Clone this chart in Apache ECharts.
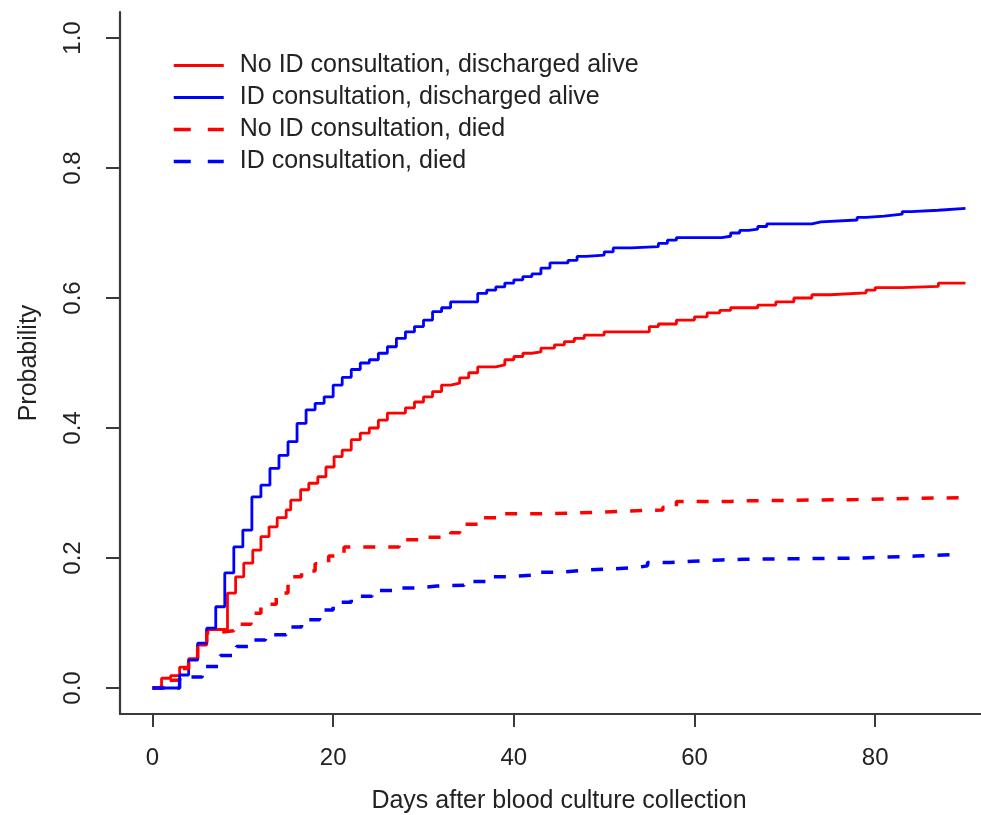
<!DOCTYPE html>
<html>
<head>
<meta charset="utf-8">
<title>Cumulative incidence</title>
<script src="https://cdn.jsdelivr.net/npm/echarts@6/dist/echarts.min.js"></script>
<style>
    html, body { margin: 0; padding: 0; background: #fff; }
    #chartmain { width: 981px; height: 815px; }
</style>
</head>
<body>
<div id="chartmain"></div>
<script>
var seriesNames = ['No ID consultation, discharged alive', 'ID consultation, discharged alive',
    'No ID consultation, died', 'ID consultation, died'];
var xTicks = [0, 20, 40, 60, 80];
var yTicks = [0, 0.2, 0.4, 0.6, 0.8, 1.0];

// no ID consultation, discharged alive
var noIdAliveDays = [0, 1, 2, 3, 4, 5, 6, 8.3, 9.2, 10.1, 11.1, 12, 12.9, 13.8, 14.8, 15.3, 16.4, 17.3, 18.3, 19.2, 20.1, 21,
    22, 23, 24, 25, 26, 28, 29, 30, 31, 32, 33, 34, 35, 36, 38, 39, 40, 41, 42, 43, 44.5, 45.6, 46.7, 47.8, 50, 55, 56, 58,
    60, 61.4, 62.8, 64, 67, 69, 71, 73, 75, 79, 80, 83, 87, 90];
var noIdAliveVals = [0, 0.015, 0.019, 0.032, 0.045, 0.066, 0.09, 0.146, 0.171, 0.192, 0.212, 0.233, 0.248, 0.262, 0.274, 0.289,
    0.305, 0.315, 0.325, 0.340, 0.356, 0.366, 0.382, 0.392, 0.400, 0.412, 0.423, 0.431, 0.440, 0.448, 0.456, 0.466, 0.469,
    0.477, 0.485, 0.494, 0.497, 0.505, 0.510, 0.515, 0.517, 0.523, 0.528, 0.533, 0.538, 0.543, 0.548, 0.556, 0.560, 0.566,
    0.571, 0.577, 0.581, 0.585, 0.589, 0.594, 0.600, 0.605, 0.608, 0.612, 0.616, 0.618, 0.623, 0.623];

// ID consultation, discharged alive
var idAliveDays = [0, 3, 4, 5, 6, 7, 8, 9, 10, 11, 12, 13, 14, 15, 16, 17, 18, 19, 20, 21, 22, 23, 24, 25, 26, 27, 28, 29,
    30, 31, 32, 33, 36, 37, 38, 39, 40, 41, 42, 43, 44, 46, 47, 48, 50, 51, 53, 56, 57, 58, 63, 64, 65, 66, 67, 68, 73, 74,
    78, 79, 81, 83, 84, 87, 90];
var idAliveVals = [0, 0.020, 0.043, 0.069, 0.092, 0.125, 0.177, 0.217, 0.243, 0.294, 0.312, 0.338, 0.358, 0.379, 0.407,
    0.428, 0.438, 0.448, 0.466, 0.478, 0.490, 0.500, 0.505, 0.515, 0.525, 0.538, 0.548, 0.556, 0.566, 0.579, 0.585, 0.594,
    0.607, 0.612, 0.617, 0.623, 0.628, 0.633, 0.637, 0.646, 0.654, 0.658, 0.664, 0.666, 0.671, 0.677, 0.679, 0.684, 0.689,
    0.693, 0.695, 0.700, 0.704, 0.706, 0.710, 0.714, 0.717, 0.720, 0.724, 0.726, 0.729, 0.733, 0.735, 0.738, 0.738];

// no ID consultation, died
var noIdDiedDays = [0, 1, 3, 4, 5, 6, 7, 9, 10.9, 12, 13.7, 15, 16.5, 18, 19.5, 21.2, 27.3, 29.5, 33, 34, 36.5, 39, 43, 46,
    49, 52, 56.5, 58, 64, 66, 78, 90];
var noIdDiedVals = [0, 0.012, 0.030, 0.045, 0.062, 0.085, 0.088, 0.098, 0.115, 0.129, 0.146, 0.171, 0.180, 0.191, 0.203,
    0.217, 0.228, 0.232, 0.239, 0.252, 0.262, 0.268, 0.269, 0.270, 0.272, 0.274, 0.278, 0.287, 0.288, 0.290, 0.293, 0.293];

// ID consultation, died
var idDiedDays = [0, 3, 5.5, 7.5, 9.3, 11, 12.5, 14.8, 16.5, 18.5, 20, 22, 24.3, 27, 29.3, 31.5, 34.5, 37, 39.3, 42.3, 45,
    47.5, 50.3, 53.5, 54.8, 57.3, 59.8, 63, 65.5, 72, 78.5, 84.5, 88.5];
var idDiedVals = [0, 0.017, 0.033, 0.050, 0.064, 0.074, 0.082, 0.094, 0.105, 0.120, 0.132, 0.141, 0.150, 0.154, 0.157,
    0.158, 0.164, 0.171, 0.174, 0.178, 0.181, 0.183, 0.185, 0.188, 0.193, 0.195, 0.197, 0.198, 0.199, 0.200, 0.203, 0.205,
    0.205];

function zip(xs, ys) {
    var out = [];
    for (var i = 0; i < xs.length; i++) {
        out.push([xs[i], ys[i]]);
    }
    return out;
}

var fontFam = '"Liberation Sans", Arial, Helvetica, sans-serif';
var axisColor = '#3a3a3a';
var textColor = '#222';
var solidW = 2.8;
var dashW = 3.5;

function makeSeries(name, days, vals, color, dashed) {
    return {
        name: name,
        type: 'line',
        step: 'end',
        showSymbol: false,
        symbol: 'none',
        silent: true,
        data: zip(days, vals),
        lineStyle: {
            color: color,
            width: dashed ? dashW : solidW,
            type: dashed ? [12, 13] : 'solid'
        },
        itemStyle: { color: color }
    };
}

var option = {
    animation: false,
    backgroundColor: '#fff',
    grid: {
        left: 120,
        right: -17,
        top: 12,
        bottom: 101,
        outerBoundsMode: 'none'
    },
    legend: {
        orient: 'vertical',
        left: 167,
        top: 48,
        itemWidth: 50,
        itemHeight: 20,
        itemGap: 7,
        selectedMode: false,
        // hide the circle marker, keep only the line
        itemStyle: { opacity: 0 },
        lineStyle: { width: 3 },
        textStyle: {
            fontFamily: fontFam,
            fontSize: 25,
            lineHeight: 25,
            color: textColor,
            padding: [0, 0, 0, 11]
        },
        data: [
            { name: seriesNames[0] },
            { name: seriesNames[1] },
            { name: seriesNames[2], lineStyle: { type: [17, 17], width: 3.5 } },
            { name: seriesNames[3], lineStyle: { type: [17, 17], width: 3.5 } }
        ]
    },
    xAxis: {
        type: 'value',
        min: -3.6,
        max: 93.6,
        name: 'Days after blood culture collection',
        nameLocation: 'middle',
        nameGap: 75,
        nameTextStyle: { fontFamily: fontFam, fontSize: 25, color: textColor },
        axisLine: { show: true, onZero: false, lineStyle: { color: axisColor, width: 2.2 } },
        axisTick: { show: true, length: 13, customValues: xTicks, lineStyle: { color: axisColor, width: 2 } },
        axisLabel: {
            customValues: xTicks,
            margin: 32,
            fontFamily: fontFam,
            fontSize: 24,
            color: textColor
        },
        splitLine: { show: false }
    },
    yAxis: {
        type: 'value',
        min: -0.04,
        max: 1.04,
        name: 'Probability',
        nameLocation: 'middle',
        nameRotate: 90,
        nameGap: 78,
        nameTextStyle: { fontFamily: fontFam, fontSize: 25, color: textColor },
        axisLine: { show: true, onZero: false, lineStyle: { color: axisColor, width: 2.2 } },
        axisTick: { show: true, length: 14, customValues: yTicks, lineStyle: { color: axisColor, width: 2 } },
        axisLabel: {
            customValues: yTicks,
            rotate: 90,
            margin: 35,
            fontFamily: fontFam,
            fontSize: 24,
            color: textColor,
            formatter: function (v) { return v.toFixed(1); }
        },
        splitLine: { show: false }
    },
    series: [
        makeSeries(seriesNames[0], noIdAliveDays, noIdAliveVals, '#ff0000', false),
        makeSeries(seriesNames[1], idAliveDays, idAliveVals, '#0000ff', false),
        makeSeries(seriesNames[2], noIdDiedDays, noIdDiedVals, '#ff0000', true),
        makeSeries(seriesNames[3], idDiedDays, idDiedVals, '#0000ff', true)
    ]
};

var myChart = echarts.init(document.getElementById('chartmain'));
myChart.setOption(option);
</script>
</body>
</html>
